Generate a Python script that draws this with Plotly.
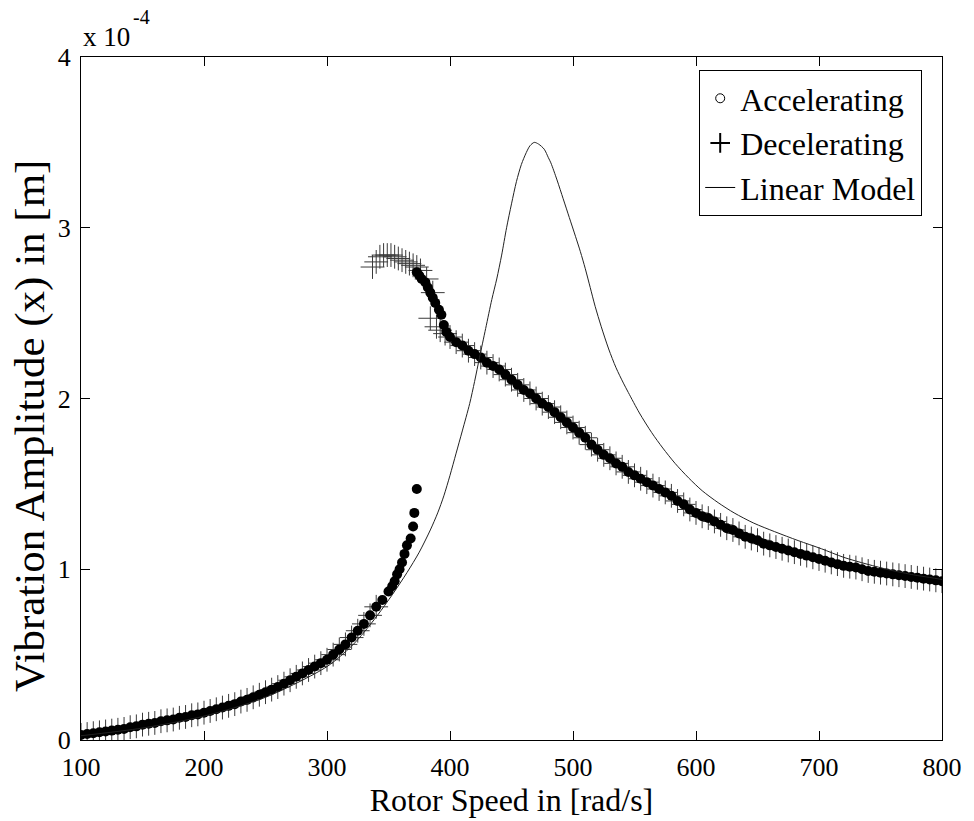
import plotly.graph_objects as go

# ---------------- data (amplitudes in units of 1e-4 m) ----------------
lower_x = [100, 105, 110, 115, 120, 125, 130, 135, 140, 145, 150, 155, 160, 165, 170, 175,
           180, 185, 190, 195, 200, 205, 210, 215, 220, 225, 230, 235, 240, 245, 250, 255,
           260, 265, 270, 275, 280, 285, 290, 295, 300, 305, 310, 315, 320, 325, 330, 335,
           340, 345, 350]
lower_y = [0.03, 0.035, 0.04, 0.045, 0.05, 0.055, 0.06, 0.065, 0.075, 0.08, 0.09, 0.095,
           0.10, 0.11, 0.115, 0.12, 0.13, 0.135, 0.145, 0.15, 0.16, 0.17, 0.18, 0.19, 0.20,
           0.21, 0.225, 0.235, 0.25, 0.265, 0.28, 0.295, 0.31, 0.33, 0.35, 0.37, 0.39, 0.41,
           0.43, 0.45, 0.47, 0.50, 0.53, 0.56, 0.60, 0.64, 0.68, 0.73, 0.78, 0.82, 0.87]

acc_jump_x = [353, 355, 357, 359, 361, 363, 365, 368, 370, 371, 373]
acc_jump_y = [0.90, 0.93, 0.97, 1.00, 1.04, 1.09, 1.14, 1.18, 1.25, 1.33, 1.47]

acc_top_x = [373, 375, 377, 380, 382, 384, 386, 388, 391, 393, 395, 397, 400]
acc_top_y = [2.74, 2.72, 2.70, 2.68, 2.65, 2.62, 2.59, 2.56, 2.52, 2.49, 2.43, 2.39, 2.36]

dec_top_x = [337, 340, 343, 346, 349, 352, 355, 358, 361, 364, 367, 370, 373, 376, 381,
             386, 384, 389, 392, 396, 400]
dec_top_y = [2.77, 2.80, 2.83, 2.84, 2.84, 2.84, 2.83, 2.82, 2.81, 2.80, 2.79, 2.78, 2.77,
             2.75, 2.70, 2.62, 2.47, 2.42, 2.40, 2.38, 2.36]

upper_x = [405, 410, 415, 420, 425, 430, 435, 440, 445, 450, 455, 460, 465, 470, 475, 480,
           485, 490, 495, 500, 505, 510, 515, 520, 525, 530, 535, 540, 545, 550, 555, 560,
           565, 570, 575, 580, 585, 590, 595, 600, 605, 610, 615, 620, 625, 630, 635, 640,
           645, 650, 655, 660, 665, 670, 675, 680, 685, 690, 695, 700, 705, 710, 715, 720,
           725, 730, 735, 740, 745, 750, 755, 760, 765, 770, 775, 780, 785, 790, 795, 800]
upper_y = [2.33, 2.31, 2.28, 2.26, 2.24, 2.21, 2.19, 2.17, 2.14, 2.11, 2.08, 2.05, 2.03,
           2.00, 1.97, 1.95, 1.92, 1.89, 1.86, 1.83, 1.80, 1.77, 1.73, 1.70, 1.67, 1.65,
           1.62, 1.60, 1.57, 1.55, 1.53, 1.51, 1.49, 1.47, 1.45, 1.43, 1.40, 1.38, 1.35,
           1.33, 1.31, 1.30, 1.28, 1.26, 1.24, 1.23, 1.21, 1.19, 1.18, 1.17, 1.15, 1.14,
           1.13, 1.12, 1.11, 1.10, 1.09, 1.08, 1.07, 1.06, 1.05, 1.04, 1.03, 1.02, 1.015,
           1.01, 1.00, 0.99, 0.985, 0.98, 0.975, 0.97, 0.965, 0.96, 0.955, 0.95, 0.945,
           0.94, 0.935, 0.93]

lin_x = [100, 150, 200, 250, 300, 320, 330, 341, 353, 365, 375, 384, 390, 395, 400, 405,
         410, 416, 420, 424, 429, 434, 438, 442, 446, 450, 454, 458, 462, 465, 468.5, 472,
         476.6, 480, 482, 487, 492, 497, 502, 506, 510, 514, 518, 523, 529, 535, 541, 545,
         554, 564, 573, 583, 594, 605, 618, 631, 647, 664, 683, 702, 720, 739, 758, 777,
         790, 800]
lin_y = [0.025, 0.07, 0.14, 0.25, 0.43, 0.55, 0.63, 0.73, 0.85, 0.98, 1.10, 1.23, 1.33,
         1.43, 1.55, 1.68, 1.81, 1.97, 2.10, 2.24, 2.41, 2.58, 2.70, 2.84, 3.00, 3.14, 3.27,
         3.37, 3.44, 3.48, 3.50, 3.49, 3.46, 3.41, 3.38, 3.28, 3.17, 3.06, 2.95, 2.86, 2.76,
         2.65, 2.54, 2.42, 2.29, 2.18, 2.09, 2.035, 1.915, 1.80, 1.71, 1.62, 1.535, 1.46,
         1.39, 1.33, 1.27, 1.22, 1.168, 1.12, 1.07, 1.03, 0.995, 0.967, 0.952, 0.94]

dec_lower_count = 49  # decelerating lower branch runs 100..340

x_ticks = [100, 200, 300, 400, 500, 600, 700, 800]
y_ticks = [0, 1, 2, 3, 4]

acc_x = lower_x + acc_jump_x + acc_top_x + upper_x
acc_y = lower_y + acc_jump_y + acc_top_y + upper_y
dec_x = lower_x[:dec_lower_count] + dec_top_x + upper_x
dec_y = lower_y[:dec_lower_count] + dec_top_y + upper_y

FONT = "Liberation Serif, Times New Roman, serif"
CROSS = "#3a3a3a"

fig = go.Figure()
fig.add_trace(go.Scatter(x=dec_x, y=dec_y, mode="markers", showlegend=False,
                         marker=dict(symbol="cross-thin-open", size=17, color=CROSS,
                                     line=dict(width=1, color=CROSS))))
fig.add_trace(go.Scatter(x=acc_x, y=acc_y, mode="markers", showlegend=False,
                         marker=dict(symbol="circle", size=10, color="black",
                                     line=dict(width=0))))
fig.add_trace(go.Scatter(x=lin_x, y=lin_y, mode="lines", showlegend=False,
                         line=dict(color="#222", width=1, shape="spline", smoothing=0.8)))
# legend entries
fig.add_trace(go.Scatter(x=[None], y=[None], mode="markers", name="Accelerating",
                         marker=dict(symbol="circle-open", size=9, color="black",
                                     line=dict(width=1, color="black"))))
fig.add_trace(go.Scatter(x=[None], y=[None], mode="markers", name="Decelerating",
                         marker=dict(symbol="cross-thin-open", size=14, color="black",
                                     line=dict(width=2, color="black"))))
fig.add_trace(go.Scatter(x=[None], y=[None], mode="lines", name="Linear Model",
                         line=dict(color="black", width=1)))

axis_common = dict(showline=True, linecolor="black", linewidth=1, mirror="ticks",
                   ticks="inside", ticklen=9, tickcolor="black", showgrid=False,
                   zeroline=False, tickfont=dict(family=FONT, size=26, color="black"),
                   ticklabelstandoff=4)

fig.update_layout(
    width=974, height=821,
    margin=dict(l=81, r=26, t=57, b=80),
    paper_bgcolor="white", plot_bgcolor="white",
    font=dict(family=FONT, color="black"),
    xaxis=dict(range=[100, 800], tickvals=x_ticks,
               title=dict(text="Rotor Speed in [rad/s]",
                          font=dict(family=FONT, size=32, color="black"), standoff=4),
               **axis_common),
    yaxis=dict(range=[0, 4], tickvals=y_ticks, ticktext=[str(v) for v in y_ticks],
               **axis_common),
    legend=dict(x=0.977, y=0.981, xanchor="right", yanchor="top",
                bgcolor="white", bordercolor="black", borderwidth=1,
                font=dict(family=FONT, size=32, color="black"),
                itemwidth=30, tracegroupgap=0),
    annotations=[
        dict(text="x 10", xref="paper", yref="paper", x=0.0, y=1.029,
             xanchor="left", yanchor="middle", showarrow=False,
             font=dict(family=FONT, size=27, color="black")),
        dict(text="-4", xref="paper", yref="paper", x=0.0577, y=1.058,
             xanchor="left", yanchor="middle", showarrow=False,
             font=dict(family=FONT, size=20, color="black")),
        dict(text="Vibration Amplitude (x) in [m]", xref="paper", yref="paper",
             x=-0.059, y=0.46, xanchor="center", yanchor="middle", textangle=-90,
             showarrow=False, font=dict(family=FONT, size=43, color="black")),
    ],
)

fig.write_html("out.html")
